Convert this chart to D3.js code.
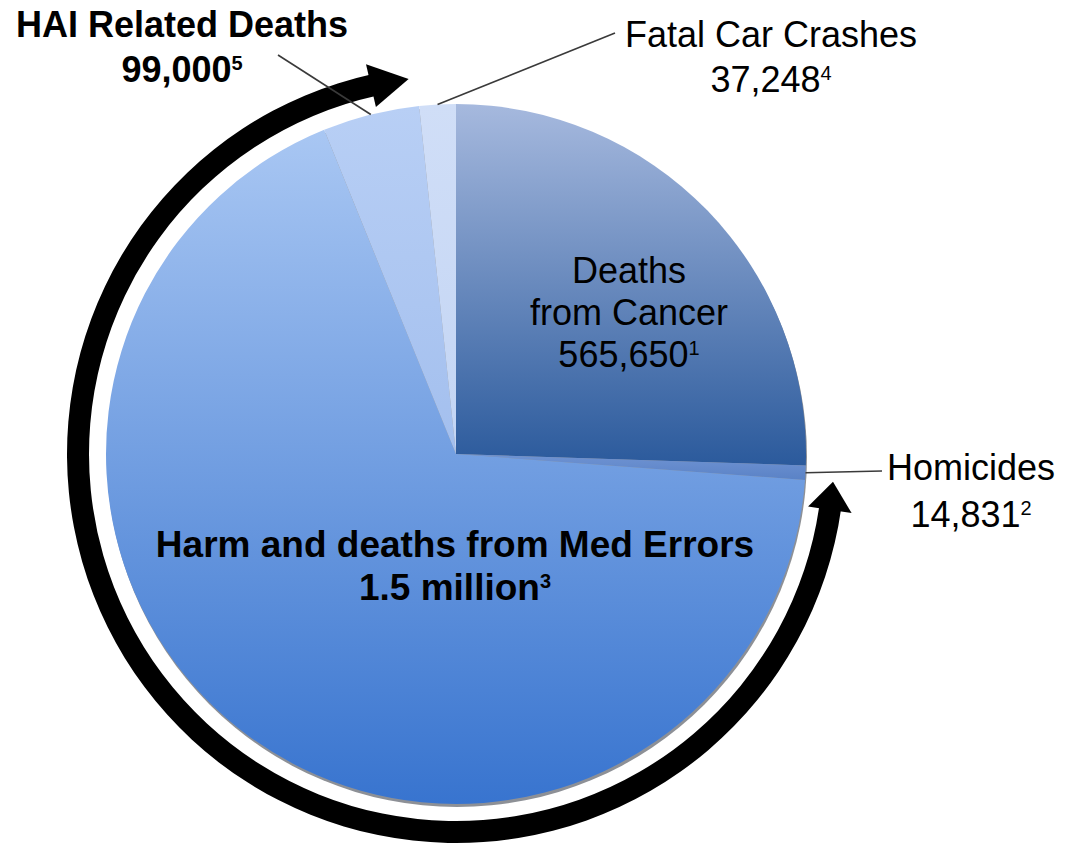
<!DOCTYPE html>
<html>
<head>
<meta charset="utf-8">
<script src="https://cdn.jsdelivr.net/npm/d3@7"></script>
<style>
  html, body { margin: 0; padding: 0; background: #ffffff; }
  svg { display: block; }
  text { font-family: "Liberation Sans", Arial, sans-serif; fill: #000; }
</style>
</head>
<body>
<svg id="chart" width="1076" height="845"></svg>
<script>
// ---- data ----
const categories = ["Deaths from Cancer", "Homicides", "Harm and deaths from Med Errors", "HAI Related Deaths", "Fatal Car Crashes"];
const values = [565650, 14831, 1500000, 99000, 37248];
const valueLabels = ["565,650", "14,831", "1.5 million", "99,000", "37,248"];
const footnotes = ["1", "2", "3", "5", "4"];
const labelLines = [["Deaths", "from Cancer"], ["Homicides"], ["Harm and deaths from Med Errors"], ["HAI Related Deaths"], ["Fatal Car Crashes"]];

// ---- styles / layout ----
const gradStops = [
  ["#a6b9de", "#2b5a9c"],
  ["#6f93d2", "#5a82c6"],
  ["#a9c7f3", "#3874cf"],
  ["#b8cff5", "#a3bfee"],
  ["#d0def7", "#c3d5f4"]
];
const labelStyle = [
  {x: 629, y: 283, lh: 42, size: 36, weight: "normal", inside: true},
  {x: 971, y: 480, lh: 47, size: 36, weight: "normal", anchor: [882, 471]},
  {x: 455, y: 557, lh: 43, size: 37, weight: "bold", inside: true},
  {x: 182, y: 37, lh: 45, size: 36, weight: "bold", anchor: [278, 55]},
  {x: 771, y: 47, lh: 45, size: 36, weight: "normal", anchor: [615, 33]}
];

const cx = 456, cy = 454, R = 350;
const svg = d3.select("#chart");
const defs = svg.append("defs");

const data = categories.map((c, i) => ({name: c, value: values[i], i}));
const pie = d3.pie().sort(null).value(d => d.value).startAngle(0).endAngle(2 * Math.PI);
const arcs = pie(data);
const arc = d3.arc().innerRadius(0).outerRadius(R);
const edgeArc = d3.arc().innerRadius(R).outerRadius(R);

arcs.forEach((a, i) => {
  const g = defs.append("linearGradient").attr("id", "g" + i)
    .attr("x1", 0).attr("y1", 0).attr("x2", 0).attr("y2", 1);
  g.append("stop").attr("offset", "0%").attr("stop-color", gradStops[i][0]);
  g.append("stop").attr("offset", "100%").attr("stop-color", gradStops[i][1]);
});

const root = svg.append("g").attr("transform", `translate(${cx},${cy})`);

// shadow rim
root.append("circle").attr("cx", 1).attr("cy", 3).attr("r", R).attr("fill", "#8d9096");

root.selectAll("path.slice").data(arcs).enter().append("path")
  .attr("class", "slice")
  .attr("d", arc)
  .attr("fill", (d, i) => `url(#g${i})`)
  .attr("stroke", "none");

// ---- circular double-headed arrow ----
const toRad = d => d * Math.PI / 180;
const pol = (r, deg) => [r * Math.sin(toRad(deg)), -r * Math.cos(toRad(deg))];
const shaftIn = 367, shaftOut = 389, headIn = 356, headOut = 400, mid = 378;
const startDeg = 98.5, endDeg = 347;
root.append("path")
  .attr("d", d3.arc().innerRadius(shaftIn).outerRadius(shaftOut)
    .startAngle(toRad(startDeg - 0.5)).endAngle(toRad(endDeg + 0.5))())
  .attr("fill", "#000");
const head1 = [pol(headIn, startDeg), pol(headOut, startDeg), pol(mid, 94.2)];
const head2 = [pol(headIn, endDeg), pol(headOut, endDeg), pol(mid, 352.8)];
[head1, head2].forEach(h => {
  root.append("path").attr("d", d3.line()(h) + "Z").attr("fill", "#000");
});

// ---- leader lines ----
arcs.forEach((a, i) => {
  const st = labelStyle[i];
  if (!st.anchor) return;
  const m = (a.startAngle + a.endAngle) / 2;
  const p = [R * Math.sin(m) + cx, -R * Math.cos(m) + cy];
  svg.append("line")
    .attr("x1", p[0]).attr("y1", p[1])
    .attr("x2", st.anchor[0]).attr("y2", st.anchor[1])
    .attr("stroke", "#3a3a3a").attr("stroke-width", 1.6);
});

// ---- labels ----
labelLines.forEach((lines, i) => {
  const st = labelStyle[i];
  const t = svg.append("text")
    .attr("text-anchor", "middle")
    .attr("font-size", st.size)
    .attr("font-weight", st.weight)
    .attr("fill", st.inside ? "#0d0d14" : "#000");
  const all = lines.concat([valueLabels[i]]);
  all.forEach((ln, k) => {
    const tl = t.append("tspan").attr("x", st.x).attr("y", st.y + k * st.lh).text(ln);
    if (k === all.length - 1) {
      t.append("tspan").attr("font-size", 20).attr("dy", -12).text(footnotes[i]);
    }
  });
});
</script>
</body>
</html>
